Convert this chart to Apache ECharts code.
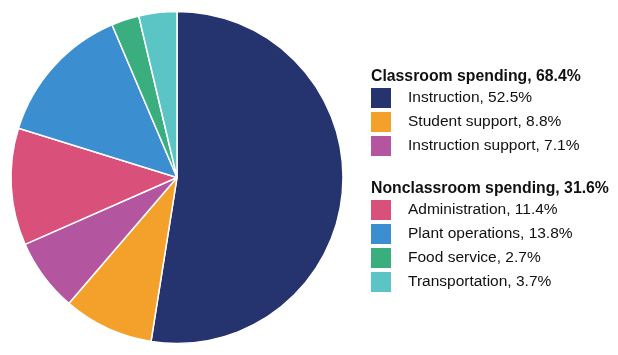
<!DOCTYPE html>
<html><head><meta charset="utf-8">
<script src="https://cdn.jsdelivr.net/npm/echarts@6/dist/echarts.min.js"></script>
<style>html,body{margin:0;padding:0;background:#fff}#c{width:618px;height:355px}</style>
</head><body><div id="c"></div>
<script>
const categories = ['Instruction','Student support','Instruction support','Administration','Plant operations','Food service','Transportation'];
const values = [52.5, 8.8, 7.1, 11.4, 13.8, 2.7, 3.7];
const colors = ['#25336F','#F4A12C','#B4559F','#D9507A','#3B8FD0','#3AAE7E','#5BC5C6'];
const groupTitles = ['Classroom spending, 68.4%','Nonclassroom spending, 31.6%'];
const groupA = categories.slice(0,3);
const groupB = categories.slice(3);

const font = "'Liberation Sans', Arial, Helvetica, sans-serif";
const valMap = {};
categories.forEach((c,i)=>valMap[c]=values[i]);
const fmt = n => n + ', ' + valMap[n].toFixed(1) + '%';
const legendBase = {
  orient:'vertical', left:371, itemWidth:20, itemHeight:20, itemGap:4, padding:0,
  icon:'rect', selectedMode:false, formatter: fmt,
  itemStyle:{borderWidth:0},
  textStyle:{fontFamily:font, fontSize:15.5, lineHeight:20, color:'#111', padding:[0,0,0,12]}
};
const chart = echarts.init(document.getElementById('c'));
chart.setOption({
  animation:false,
  color: colors,
  title:[
    {text:groupTitles[0], left:371, top:69, padding:0, textStyle:{fontFamily:font,fontSize:15.8,fontWeight:'bold',color:'#111'}},
    {text:groupTitles[1], left:371, top:181, padding:0, textStyle:{fontFamily:font,fontSize:15.8,fontWeight:'bold',color:'#111'}}
  ],
  legend:[
    Object.assign({}, legendBase, {top:88, data:groupA}),
    Object.assign({}, legendBase, {top:200, data:groupB})
  ],
  series:[{
    type:'pie', center:[177,177.5], radius:166, startAngle:90, clockwise:true,
    label:{show:false}, labelLine:{show:false},
    itemStyle:{borderColor:'#fff', borderWidth:1.5},
    emphasis:{disabled:true},
    data: categories.map((c,i)=>({name:c, value:values[i]}))
  }]
});
</script></body></html>
